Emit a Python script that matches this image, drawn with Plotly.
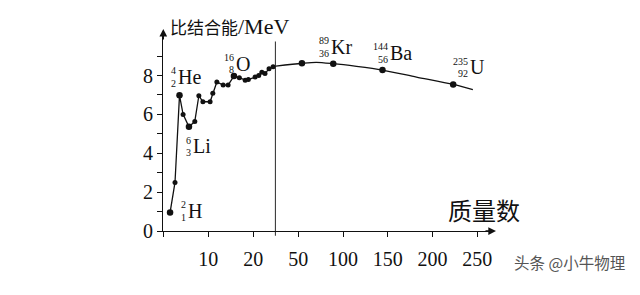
import plotly.graph_objects as go

# ---------------- data ----------------
# light nuclei, left (expanded) part of the mass-number axis
left_A = [1.5, 2.6, 3.6, 4.4, 5.7, 7.0, 7.9, 8.8, 10.4, 11.0, 11.9, 13.3, 14.4,
          15.7, 16.9, 18.2, 18.9, 20.4, 21.2, 21.9, 22.6, 23.5, 24.4]
left_BE = [0.95, 2.5, 6.98, 6.0, 5.36, 5.64, 6.96, 6.65, 6.65, 7.09, 7.67, 7.51, 7.51,
           7.97, 7.89, 7.76, 7.79, 7.92, 8.0, 8.17, 8.1, 8.35, 8.45]

# heavier nuclei, right (compressed) part
right_A = [54, 89, 144, 223]
right_BE = [8.63, 8.61, 8.28, 7.54]
# smooth curve through the heavy nuclei
curve_A = [54, 70, 89, 115, 144, 182, 223, 245]
curve_BE = [8.63, 8.68, 8.61, 8.47, 8.28, 7.92, 7.54, 7.27]

BREAK_A = 25          # where the axis scale changes
BREAK_BE = 8.48       # curve value at the break

# labelled nuclides
key_sym = ["H", "He", "Li", "O", "Kr", "Ba", "U"]
key_mass = ["2", "4", "6", "16", "89", "144", "235"]
key_Z = ["1", "2", "3", "8", "36", "56", "92"]
key_A = [1.5, 3.6, 5.7, 15.7]          # labelled points on the left axis
key_BE = [0.95, 6.98, 5.36, 7.97]

left_ticks = [0, 10, 20]
left_ticktext = ["", "10", "20"]
right_ticks = [50, 100, 150, 200, 250]
y_ticks = list(range(0, 10))
y_ticktext = [str(v) if v % 2 == 0 else "" for v in y_ticks]

# ---------------- layout helpers (pixel -> paper) ----------------
W, H = 640, 295
def fx(px):
    return px / W
def fy(py):
    return 1 - py / H

X0_PX, BREAK_PX, XEND_PX = 163.3, 275.8, 493
Y0_PX, YTOP_PX = 240, 33

SERIF = "Liberation Serif"
CJK = "Noto Sans CJK SC"
BLACK = "#111111"

fig = go.Figure()

# left part
fig.add_trace(go.Scatter(
    x=left_A + [BREAK_A], y=left_BE + [BREAK_BE], mode="lines",
    line=dict(color=BLACK, width=1.3), xaxis="x", yaxis="y", hoverinfo="skip"))
fig.add_trace(go.Scatter(
    x=left_A, y=left_BE, mode="markers",
    marker=dict(color=BLACK, size=5), xaxis="x", yaxis="y"))
fig.add_trace(go.Scatter(
    x=key_A, y=key_BE, mode="markers",
    marker=dict(color=BLACK, size=6.5), xaxis="x", yaxis="y"))

# right part
fig.add_trace(go.Scatter(
    x=[BREAK_A - 0.2] + curve_A, y=[BREAK_BE] + curve_BE, mode="lines",
    line=dict(color=BLACK, width=1.3, shape="spline", smoothing=0.8),
    xaxis="x2", yaxis="y", hoverinfo="skip"))
fig.add_trace(go.Scatter(
    x=right_A, y=right_BE, mode="markers",
    marker=dict(color=BLACK, size=6.5), xaxis="x2", yaxis="y"))

tickfont = dict(family=SERIF, size=20, color=BLACK)
common_x = dict(showgrid=False, zeroline=False, showline=True, linecolor=BLACK,
                linewidth=1.4, ticks="outside", ticklen=5, tickwidth=1.3,
                tickcolor=BLACK, tickfont=tickfont, anchor="y", fixedrange=True,
                ticklabelstandoff=5)

fig.update_layout(
    width=W, height=H, margin=dict(l=0, r=0, t=0, b=0),
    paper_bgcolor="white", plot_bgcolor="white", showlegend=False,
    xaxis=dict(domain=[fx(X0_PX), fx(BREAK_PX)], range=[0, BREAK_A],
               tickvals=left_ticks, ticktext=left_ticktext, **common_x),
    xaxis2=dict(domain=[fx(BREAK_PX), fx(XEND_PX)], range=[24.8, 267.5],
                tickvals=right_ticks, **common_x),
    yaxis=dict(domain=[fy(Y0_PX), fy(YTOP_PX)], range=[0, 10.25],
               showgrid=False, zeroline=False, showline=True, linecolor=BLACK,
               linewidth=1.4, ticks="outside", ticklen=5, tickwidth=1.3,
               tickcolor=BLACK, tickvals=y_ticks, ticktext=y_ticktext,
               tickfont=tickfont, anchor="x", fixedrange=True),
)

# break line
fig.add_shape(type="line", xref="x", yref="paper", x0=BREAK_A, x1=BREAK_A,
              y0=fy(245), y1=fy(43), line=dict(color=BLACK, width=1.8))

annotations = []
# axis arrows
annotations.append(dict(xref="paper", yref="paper", x=fx(XEND_PX + 3), y=fy(Y0_PX),
                        ax=-12, ay=0, text="", showarrow=True, arrowhead=2,
                        arrowsize=1.1, arrowwidth=1.4, arrowcolor=BLACK))
annotations.append(dict(xref="paper", yref="paper", x=fx(X0_PX), y=fy(YTOP_PX - 3),
                        ax=0, ay=12, text="", showarrow=True, arrowhead=2,
                        arrowsize=1.1, arrowwidth=1.4, arrowcolor=BLACK))

# axis titles
annotations.append(dict(
    xref="paper", yref="paper", x=fx(168), y=fy(28), xanchor="left", yanchor="middle",
    text='<span style="font-family:Noto Sans CJK SC;font-size:17px">比结合能</span>/MeV',
    showarrow=False, font=dict(family=SERIF, size=22, color=BLACK)))
annotations.append(dict(
    xref="paper", yref="paper", x=fx(446), y=fy(218), xanchor="left", yanchor="middle",
    text="质量数", showarrow=False, font=dict(family=CJK, size=24, color=BLACK)))

# nuclide labels: (left edge of symbol, vertical centre) in pixels
label_pos = [(186, 219), (176, 80), (191, 152), (234, 66), (329, 49), (388, 55), (468, 70)]
for sym, m, z, (lx, ly) in zip(key_sym, key_mass, key_Z, label_pos):
    annotations.append(dict(xref="paper", yref="paper", x=fx(lx), y=fy(ly),
                            xanchor="left", yanchor="middle", text=sym, showarrow=False,
                            font=dict(family=SERIF, size=20, color=BLACK)))
    annotations.append(dict(xref="paper", yref="paper", x=fx(lx + 1), y=fy(ly - 6.5),
                            xanchor="right", yanchor="middle", text=m, showarrow=False,
                            borderpad=0, font=dict(family=SERIF, size=10, color=BLACK)))
    annotations.append(dict(xref="paper", yref="paper", x=fx(lx + 1), y=fy(ly + 6.5),
                            xanchor="right", yanchor="middle", text=z, showarrow=False,
                            borderpad=0, font=dict(family=SERIF, size=10, color=BLACK)))

# watermark
annotations.append(dict(xref="paper", yref="paper", x=fx(512), y=fy(272),
                        xanchor="left", yanchor="middle", text="头条 @小牛物理",
                        showarrow=False, font=dict(family=CJK, size=15.5, color="#555555")))

fig.update_layout(annotations=annotations)
fig.write_html("out.html")
